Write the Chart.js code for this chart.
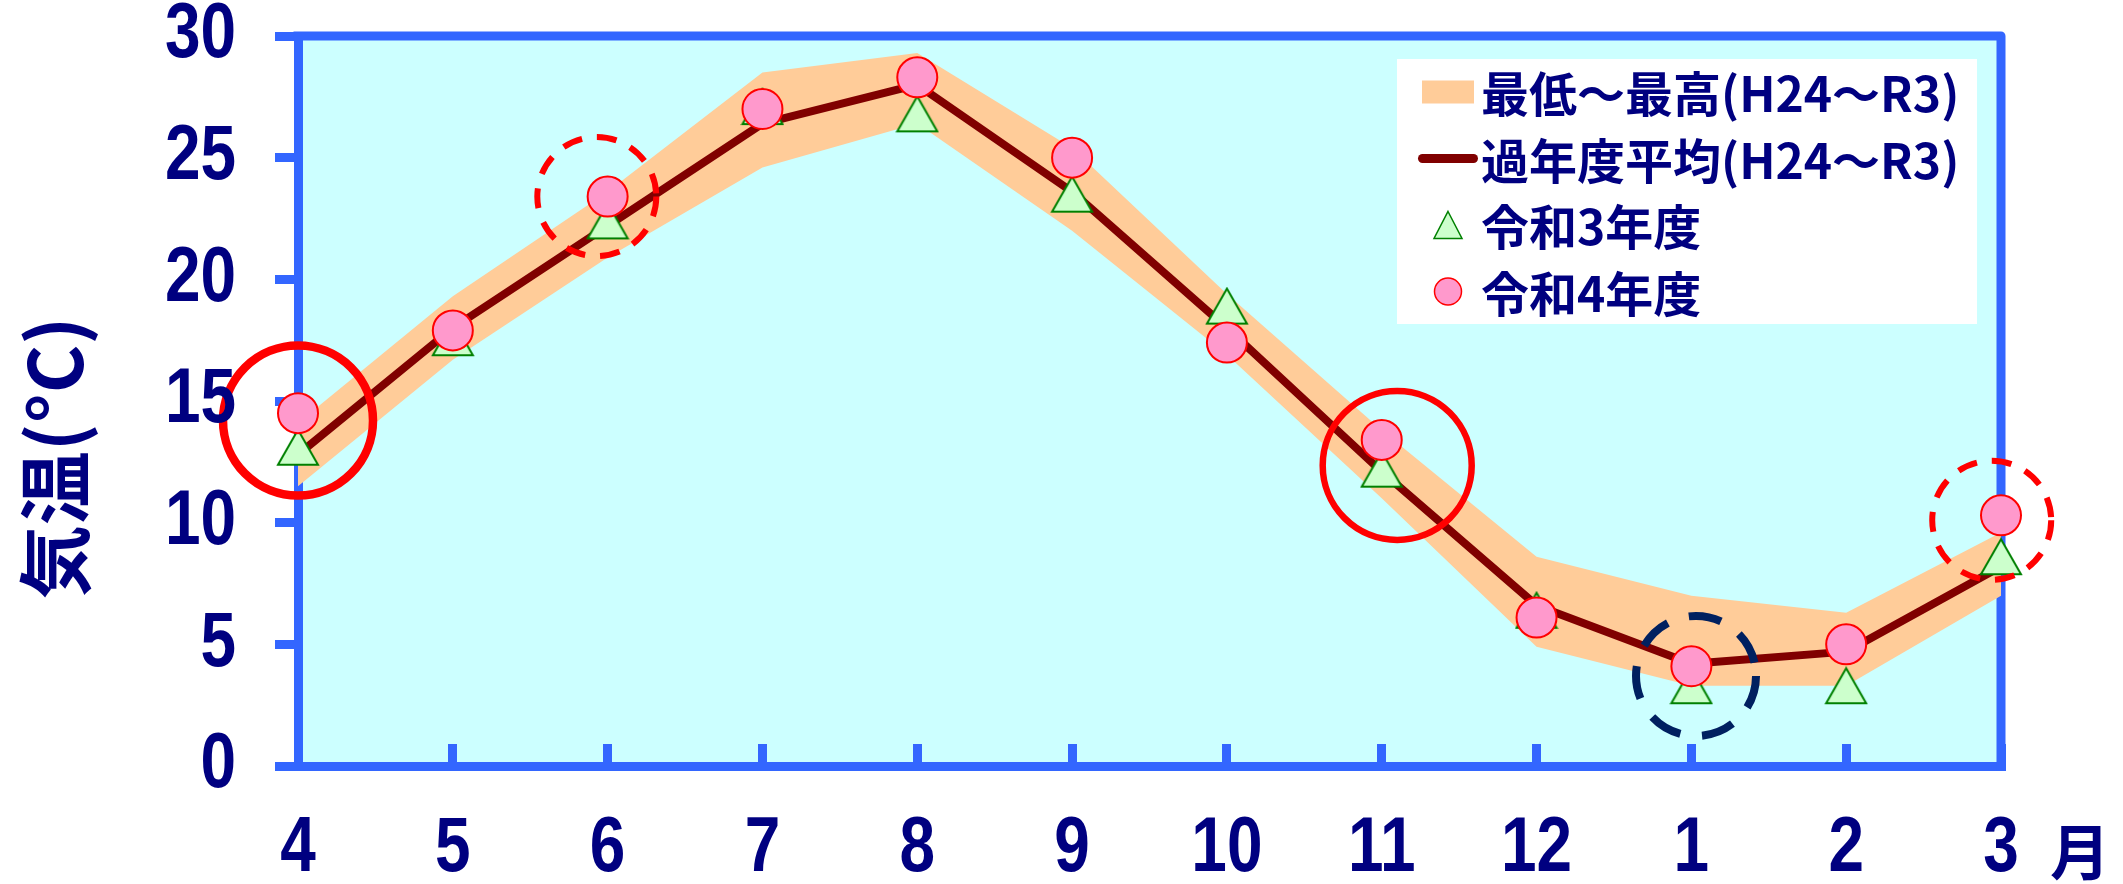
<!DOCTYPE html>
<html lang="ja">
<head>
<meta charset="utf-8">
<title>気温</title>
<script src="https://cdn.jsdelivr.net/npm/chart.js@4.4.1/dist/chart.umd.min.js"></script>
<style>
  html, body { margin: 0; padding: 0; background: #ffffff; }
  #wrap { width: 2123px; height: 884px; }
  canvas { display: block; }
</style>
</head>
<body>
<div id="wrap"><canvas id="chart" width="2123" height="884"></canvas></div>
<script>
// Month labels (fiscal year, April to March)
const months = ['4', '5', '6', '7', '8', '9', '10', '11', '12', '1', '2', '3'];
const yTicks = [0, 5, 10, 15, 20, 25, 30];

// Range of monthly mean temperature over H24–R3 (upper / lower edge of band)
const rangeMax = [14.1, 19.3, 23.6, 28.5, 29.3, 25.4, 19.4, 13.8, 8.6, 7.0, 6.3, 9.6];
const rangeMin = [11.5, 16.7, 20.9, 24.6, 26.4, 22.0, 16.9, 11.0, 4.9, 3.3, 3.3, 7.0];
// Average of past years (H24–R3)
const pastAvg = [12.8, 18.0, 22.2, 26.4, 28.0, 23.6, 18.0, 12.1, 6.6, 4.2, 4.7, 8.2];
// Reiwa 3 and Reiwa 4 monthly mean temperature
const reiwa3 = [13.1, 17.6, 22.4, 27.1, 26.8, 23.5, 18.9, 12.2, 6.4, 3.3, 3.3, 8.6];
const reiwa4 = [14.5, 17.9, 23.4, 27.0, 28.3, 25.0, 17.4, 13.4, 6.1, 4.1, 5.0, 10.3];

// Highlight rings: position on the month axis and temperature at ring centre
const ringAt   = [0, 1.93, 7.1, 9.03, 10.94];
const ringTemp = [14.2, 23.4, 12.35, 3.7, 10.1];

const ringStyle = [
  { r: 75,   w: 8.5, color: '#FF0000', dash: [] },
  { r: 59.5, w: 6,   color: '#FF0000', dash: [20, 15] },
  { r: 74.5, w: 6.5, color: '#FF0000', dash: [] },
  { r: 60,   w: 8,   color: '#002060', dash: [33, 22] },
  { r: 59.5, w: 6,   color: '#FF0000', dash: [20, 15] }
];

const AXIS_BLUE = '#3366FF';
const NAVY = '#000080';
const PLOT_BG = '#CCFFFF';
const BAND = '#FFCC99';
const AVG_LINE = '#800000';
const CIRCLE_FILL = '#FF99CC';
const CIRCLE_EDGE = '#FF0000';
const TRI_FILL = '#CCFFCC';
const TRI_EDGE = '#008000';
const TICK_FONT = 'bold 77px "Liberation Sans", Arial, sans-serif';
const TICK_SQUEEZE = 0.83;   // narrow, condensed-looking digits
const CJK_FONT = '"Noto Sans CJK JP", "Noto Sans", sans-serif';

// Triangle marker as an image so its bounding box is centred on the value
function makeTriangle(w, h, fill, edge, lw) {
  const c = document.createElement('canvas');
  c.width = w + 4; c.height = h + 4;
  const g = c.getContext('2d');
  g.beginPath();
  g.moveTo(c.width / 2, 2);
  g.lineTo(c.width - 2, h + 2);
  g.lineTo(2, h + 2);
  g.closePath();
  g.fillStyle = fill; g.fill();
  g.lineWidth = lw; g.strokeStyle = edge; g.lineJoin = 'miter'; g.stroke();
  return c;
}
const triangleMarker = makeTriangle(40, 35, TRI_FILL, TRI_EDGE, 2);

// Plot background
const plotBackground = {
  id: 'plotBackground',
  beforeDraw(chart) {
    const { ctx, chartArea: a } = chart;
    ctx.save();
    ctx.fillStyle = '#FFFFFF';
    ctx.fillRect(0, 0, chart.width, chart.height);
    ctx.fillStyle = PLOT_BG;
    ctx.fillRect(a.left, a.top, a.right - a.left, a.bottom - a.top);
    ctx.restore();
  }
};

// Top and right frame lines of the plot
const plotFrame = {
  id: 'plotFrame',
  beforeDatasetsDraw(chart) {
    const { ctx, chartArea: a } = chart;
    ctx.save();
    ctx.strokeStyle = AXIS_BLUE;
    ctx.lineWidth = 9;
    ctx.lineJoin = 'round';
    ctx.lineCap = 'square';
    ctx.beginPath();
    ctx.moveTo(a.left, a.top);
    ctx.lineTo(a.right, a.top);
    ctx.lineTo(a.right, a.bottom);
    ctx.stroke();
    ctx.restore();
  }
};

// Highlight rings around selected months
const highlightRings = {
  id: 'highlightRings',
  afterDatasetsDraw(chart) {
    const { ctx } = chart;
    const xs = chart.scales.x, ys = chart.scales.y;
    ringAt.forEach((m, i) => {
      const st = ringStyle[i];
      ctx.save();
      ctx.beginPath();
      ctx.arc(xs.getPixelForValue(m), ys.getPixelForValue(ringTemp[i]), st.r, 0, Math.PI * 2);
      ctx.lineWidth = st.w;
      ctx.strokeStyle = st.color;
      ctx.setLineDash(st.dash);
      ctx.stroke();
      ctx.restore();
    });
  }
};

// Legend box in the upper right corner of the plot
const boxLegend = {
  id: 'boxLegend',
  afterDatasetsDraw(chart) {
    const { ctx, chartArea: a } = chart;
    const ds = chart.data.datasets;
    const w = 580, h = 265;
    const x0 = a.right - 24 - w;
    const y0 = a.top + 23;
    const sx = x0 + 51;          // swatch centre
    const tx = x0 + 84;          // text start
    const rowY = [y0 + 33, y0 + 99.5, y0 + 166, y0 + 232.5];
    ctx.save();
    ctx.fillStyle = '#FFFFFF';
    ctx.fillRect(x0, y0, w, h);

    // band swatch
    ctx.fillStyle = ds[3].backgroundColor;
    ctx.fillRect(sx - 26, rowY[0] - 11.5, 52, 23);
    // line swatch
    ctx.strokeStyle = ds[2].borderColor;
    ctx.lineWidth = 9;
    ctx.lineCap = 'round';
    ctx.beginPath();
    ctx.moveTo(sx - 25.5, rowY[1]);
    ctx.lineTo(sx + 25.5, rowY[1]);
    ctx.stroke();
    // triangle swatch
    ctx.beginPath();
    ctx.moveTo(sx, rowY[2] - 13.5);
    ctx.lineTo(sx + 14, rowY[2] + 13.5);
    ctx.lineTo(sx - 14, rowY[2] + 13.5);
    ctx.closePath();
    ctx.fillStyle = TRI_FILL; ctx.fill();
    ctx.lineWidth = 1.5; ctx.strokeStyle = TRI_EDGE; ctx.lineJoin = 'miter'; ctx.stroke();
    // circle swatch
    ctx.beginPath();
    ctx.arc(sx, rowY[3], 13.5, 0, Math.PI * 2);
    ctx.fillStyle = ds[0].pointBackgroundColor; ctx.fill();
    ctx.lineWidth = 1.5; ctx.strokeStyle = ds[0].pointBorderColor; ctx.stroke();

    ctx.fillStyle = NAVY;
    ctx.font = 'bold 48px ' + CJK_FONT;
    ctx.textAlign = 'left';
    ctx.textBaseline = 'middle';
    [ds[3].label, ds[2].label, ds[1].label, ds[0].label].forEach((t, i) => {
      ctx.fillText(t, tx, rowY[i] + 2);
    });
    ctx.restore();
  }
};

// Condensed tick labels placed at the scales' own tick positions
function squeezedText(ctx, text, x, y, align) {
  ctx.save();
  ctx.translate(x, y);
  ctx.scale(TICK_SQUEEZE, 1);
  ctx.textAlign = align;
  ctx.textBaseline = 'middle';
  ctx.fillText(text, 0, 0);
  ctx.restore();
}

const tickLabels = {
  id: 'tickLabels',
  afterDraw(chart) {
    const { ctx } = chart;
    const xs = chart.scales.x, ys = chart.scales.y;
    ctx.save();
    ctx.fillStyle = NAVY;
    ctx.font = TICK_FONT;
    ys.ticks.forEach(t => {
      squeezedText(ctx, String(t.value), ys.right - 62, ys.getPixelForValue(t.value), 'right');
    });
    xs.ticks.forEach((t, i) => {
      squeezedText(ctx, months[i], xs.getPixelForTick(i), xs.top + 84, 'center');
    });
    ctx.restore();
  }
};

// Axis title and month unit
const axisTexts = {
  id: 'axisTexts',
  afterDraw(chart) {
    const { ctx, chartArea: a } = chart;
    ctx.save();
    ctx.fillStyle = NAVY;
    ctx.font = 'bold 74px ' + CJK_FONT;
    ctx.textAlign = 'center';
    ctx.textBaseline = 'middle';
    ctx.translate(55, a.top + (a.bottom - a.top) * 0.578);
    ctx.rotate(-Math.PI / 2);
    ctx.fillText('気温(°C)', 0, 0);
    ctx.restore();

    ctx.save();
    ctx.fillStyle = NAVY;
    ctx.font = 'bold 60px ' + CJK_FONT;
    ctx.textAlign = 'center';
    ctx.textBaseline = 'middle';
    ctx.fillText('月', a.right + 79, a.bottom + 86);
    ctx.restore();
  }
};

new Chart(document.getElementById('chart'), {
  type: 'line',
  data: {
    labels: months,
    datasets: [
      {
        label: '令和4年度', data: reiwa4, showLine: false, clip: false,
        pointStyle: 'circle', pointRadius: 20, pointHoverRadius: 20,
        pointBackgroundColor: CIRCLE_FILL, pointBorderColor: CIRCLE_EDGE, pointBorderWidth: 2
      },
      {
        label: '令和3年度', data: reiwa3, showLine: false, clip: false,
        pointStyle: triangleMarker, pointRadius: 20, pointHoverRadius: 20
      },
      {
        label: '過年度平均(H24～R3)', data: pastAvg, borderColor: AVG_LINE, borderWidth: 8,
        borderJoinStyle: 'round', borderCapStyle: 'butt', pointRadius: 0, fill: false, tension: 0
      },
      {
        label: '最低～最高(H24～R3)', data: rangeMax, borderColor: 'rgba(0,0,0,0)', borderWidth: 0,
        backgroundColor: BAND, pointRadius: 0, fill: '+1', tension: 0
      },
      {
        label: '最低(H24～R3)', data: rangeMin, borderColor: 'rgba(0,0,0,0)', borderWidth: 0,
        pointRadius: 0, fill: false, tension: 0
      }
    ]
  },
  options: {
    responsive: false,
    devicePixelRatio: 1,
    animation: false,
    events: [],
    layout: { padding: { left: 0, right: 122, top: 36, bottom: 0 } },
    plugins: { legend: { display: false }, tooltip: { enabled: false } },
    scales: {
      x: {
        type: 'category',
        offset: false,
        grid: {
          display: true, drawOnChartArea: false, drawTicks: true,
          tickLength: -22, tickWidth: 9, tickColor: AXIS_BLUE, color: AXIS_BLUE, lineWidth: 9
        },
        border: { display: true, color: AXIS_BLUE, width: 9 },
        ticks: { display: false, autoSkip: false, maxRotation: 0, minRotation: 0 },
        afterFit(s) { s.height = 118; s.paddingLeft = 0; s.paddingRight = 0; s.paddingTop = 0; s.paddingBottom = 0; }
      },
      y: {
        type: 'linear',
        min: 0, max: 30,
        afterBuildTicks(s) { s.ticks = yTicks.map(v => ({ value: v })); },
        grid: {
          display: true, drawOnChartArea: false, drawTicks: true,
          tickLength: 23, tickWidth: 9, tickColor: AXIS_BLUE, color: AXIS_BLUE, lineWidth: 9
        },
        border: { display: true, color: AXIS_BLUE, width: 9 },
        ticks: { display: false },
        afterFit(s) { s.width = 298; s.paddingLeft = 0; s.paddingRight = 0; s.paddingTop = 0; s.paddingBottom = 0; }
      }
    }
  },
  plugins: [plotBackground, plotFrame, highlightRings, boxLegend, tickLabels, axisTexts]
});
</script>
</body>
</html>
